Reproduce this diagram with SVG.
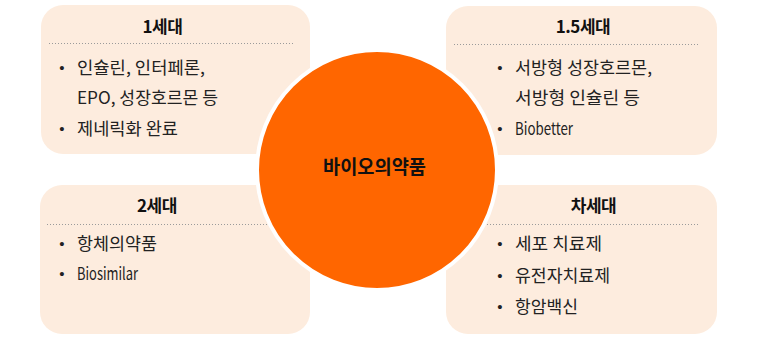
<svg xmlns="http://www.w3.org/2000/svg" width="758" height="348" viewBox="0 0 758 348">
<style>
.box{fill:#FDECDE;}
.title{font-family:"Noto Sans CJK KR","Noto Sans",sans-serif;font-size:17px;font-weight:bold;fill:#111;text-anchor:middle;letter-spacing:-0.5px;}
.item{font-family:"Noto Sans CJK KR","Noto Sans",sans-serif;font-size:17px;fill:#222;}
.bul{font-family:"Liberation Sans",sans-serif;font-size:15px;fill:#222;text-anchor:middle;}
.dot{stroke:#9a9a9a;stroke-width:1;stroke-dasharray:1 2;fill:none;}
.center{font-family:"Noto Sans CJK KR","Noto Sans",sans-serif;font-size:19px;font-weight:bold;fill:#111;text-anchor:middle;}
</style>
<rect width="758" height="348" fill="#fff"/>
<g id="gen1">
<rect class="box" x="41" y="5" width="269" height="149" rx="22"/>
<text class="title" x="162.5" y="33">1세대</text>
<line class="dot" x1="49" y1="43.5" x2="295" y2="43.5"/>
<text class="bul" x="62" y="73">•</text>
<text class="item" x="77" y="74" textLength="128" lengthAdjust="spacingAndGlyphs">인슐린, 인터페론,</text>
<text class="item" x="77" y="104" textLength="141" lengthAdjust="spacingAndGlyphs">EPO, 성장호르몬 등</text>
<text class="bul" x="62" y="134">•</text>
<text class="item" x="77" y="135" textLength="101" lengthAdjust="spacingAndGlyphs">제네릭화 완료</text>
</g>
<g id="gen15">
<rect class="box" x="446" y="6" width="271" height="149" rx="22"/>
<text class="title" x="583" y="33">1.5세대</text>
<line class="dot" x1="454" y1="44.5" x2="700" y2="44.5"/>
<text class="bul" x="500" y="73">•</text>
<text class="item" x="515" y="74" textLength="137" lengthAdjust="spacingAndGlyphs">서방형 성장호르몬,</text>
<text class="item" x="515" y="104" textLength="125" lengthAdjust="spacingAndGlyphs">서방형 인슐린 등</text>
<text class="bul" x="500" y="134">•</text>
<text class="item" x="515" y="135" textLength="58" lengthAdjust="spacingAndGlyphs">Biobetter</text>
</g>
<g id="gen2">
<rect class="box" x="40" y="185" width="270" height="149" rx="22"/>
<text class="title" x="157" y="212">2세대</text>
<line class="dot" x1="47" y1="224.5" x2="295" y2="224.5"/>
<text class="bul" x="62" y="249">•</text>
<text class="item" x="77" y="250" textLength="80" lengthAdjust="spacingAndGlyphs">항체의약품</text>
<text class="bul" x="62" y="279">•</text>
<text class="item" x="77" y="280" textLength="61" lengthAdjust="spacingAndGlyphs">Biosimilar</text>
</g>
<g id="genNext">
<rect class="box" x="446" y="185" width="271" height="149" rx="22"/>
<text class="title" x="593.5" y="212">차세대</text>
<line class="dot" x1="454" y1="224.5" x2="700" y2="224.5"/>
<text class="bul" x="500" y="249">•</text>
<text class="item" x="515" y="250" textLength="87" lengthAdjust="spacingAndGlyphs">세포 치료제</text>
<text class="bul" x="500" y="281">•</text>
<text class="item" x="515" y="282" textLength="95" lengthAdjust="spacingAndGlyphs">유전자치료제</text>
<text class="bul" x="500" y="312">•</text>
<text class="item" x="515" y="313" textLength="63" lengthAdjust="spacingAndGlyphs">항암백신</text>
</g>
<g id="center">
<circle cx="377" cy="170" r="120" fill="#FF6600" stroke="#fff" stroke-width="4"/>
<text class="center" x="374.5" y="174" textLength="103" lengthAdjust="spacingAndGlyphs">바이오의약품</text>
</g>
</svg>
